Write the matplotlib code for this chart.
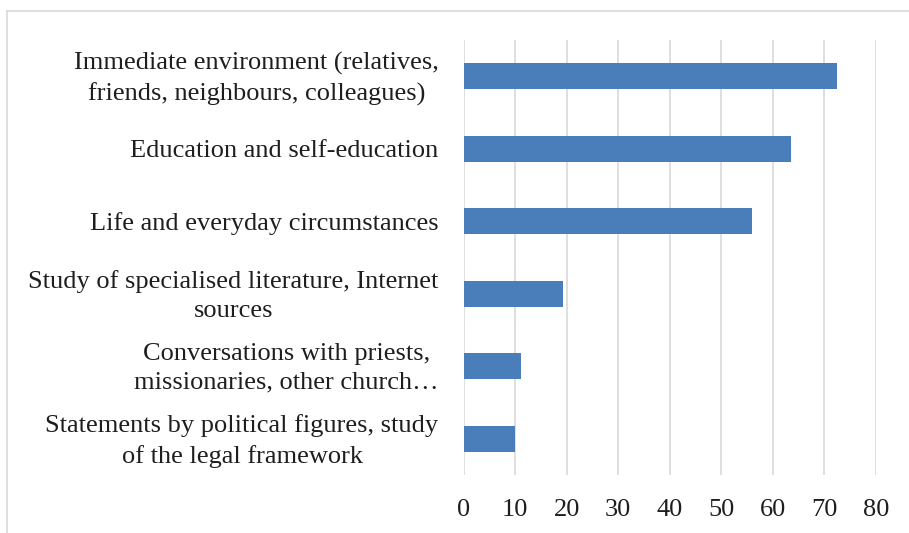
import matplotlib
matplotlib.use("Agg")
import matplotlib.pyplot as plt
from matplotlib.lines import Line2D
from matplotlib.transforms import ScaledTranslation

# sources of information, top to bottom as in the chart
categories = [
    "Immediate environment (relatives,\nfriends, neighbours, colleagues)",
    "Education and self-education",
    "Life and everyday circumstances",
    "Study of specialised literature, Internet\nsources",
    "Conversations with priests,\nmissionaries, other church…",
    "Statements by political figures, study\nof the legal framework",
]
values = [72.5, 63.5, 56.0, 19.3, 11.1, 10.0]
x_ticks = [0, 10, 20, 30, 40, 50, 60, 70, 80]

plt.rcParams['font.family'] = ['Liberation Serif', 'DejaVu Serif']

fig = plt.figure(figsize=(9.09, 5.33), dpi=100)
ax = fig.add_axes([0.51, 0.109, 0.4537, 0.816])

pos = list(range(len(categories)))[::-1]
ax.barh(pos, values, height=0.355, color='#4a7ebb', zorder=3)

ax.set_xlim(0, 80)
ax.set_ylim(-0.5, len(categories) - 0.5)
ax.set_xticks(x_ticks)
ax.set_xticklabels([str(t) for t in x_ticks], fontsize=19, color='#1e1e1e')
ax.set_yticks(pos)
ax.set_yticklabels(categories, fontsize=19, color='#1e1e1e', multialignment='center', linespacing=1.42)
ax.tick_params(axis='both', length=0)
ax.tick_params(axis='x', pad=17)
ax.tick_params(axis='y', pad=18)
ax.grid(axis='x', color='#d9d9d9', linewidth=1.2, zorder=0)
for s in ax.spines.values():
    s.set_visible(False)

# two-line labels sit a little higher in the original
lift = ScaledTranslation(0, 4 / 100, fig.dpi_scale_trans)
for lbl in ax.get_yticklabels():
    if "\n" in lbl.get_text():
        lbl.set_transform(lbl.get_transform() + lift)

# chart frame: only left and top edges are visible in the crop
x0, y0 = 7.5 / 909, 1 - 10.5 / 533
fig.add_artist(Line2D([x0, x0], [0, y0], transform=fig.transFigure, color='#d9d9d9', lw=1.2))
fig.add_artist(Line2D([x0, 1], [y0, y0], transform=fig.transFigure, color='#d9d9d9', lw=1.2))

fig.savefig("out.png", dpi=100, facecolor='white')
